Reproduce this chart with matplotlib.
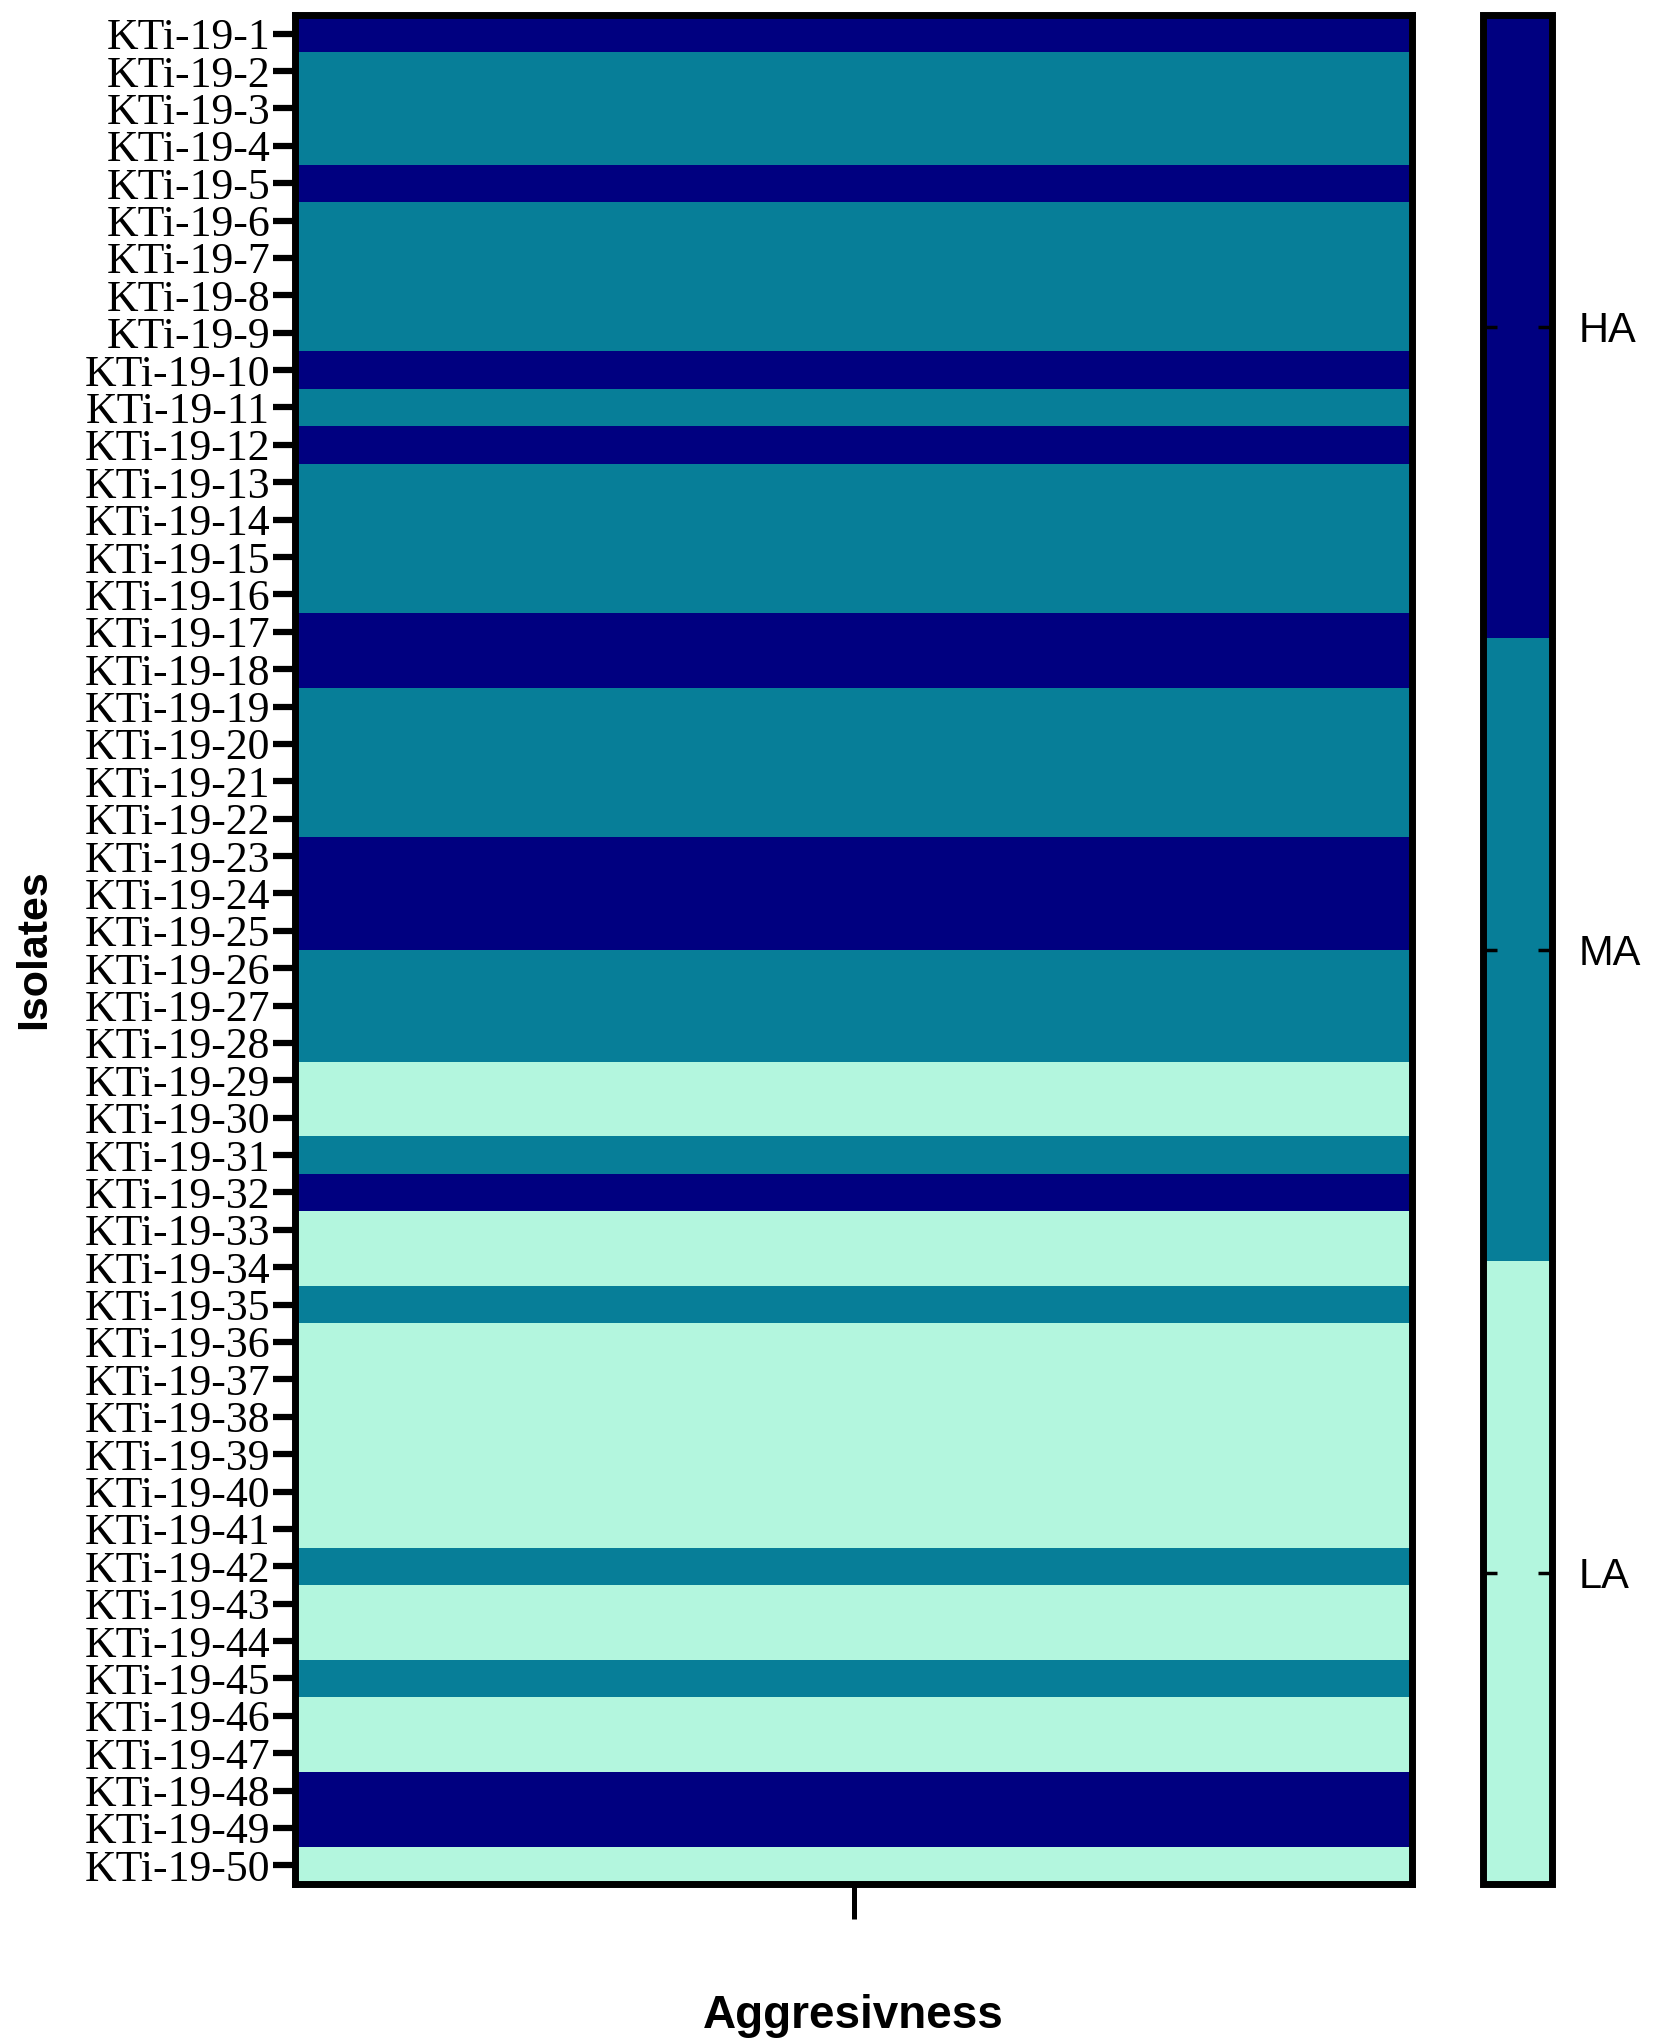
import matplotlib
matplotlib.use("Agg")
import matplotlib.pyplot as plt
from matplotlib.colors import ListedColormap, BoundaryNorm
import numpy as np

isolates = [f"KTi-19-{i}" for i in range(1, 51)]
aggressiveness = [
    "HA", "MA", "MA", "MA", "HA", "MA", "MA", "MA", "MA", "HA",
    "MA", "HA", "MA", "MA", "MA", "MA", "HA", "HA", "MA", "MA",
    "MA", "MA", "HA", "HA", "HA", "MA", "MA", "MA", "LA", "LA",
    "MA", "HA", "LA", "LA", "MA", "LA", "LA", "LA", "LA", "LA",
    "LA", "MA", "LA", "LA", "MA", "LA", "LA", "HA", "HA", "LA",
]
levels = ["LA", "MA", "HA"]
level_colors = ["#b3f6de", "#077e98", "#000080"]

codes = np.array([levels.index(a) for a in aggressiveness]).reshape(-1, 1)

W, H = 1654, 2041
fig = plt.figure(figsize=(W / 100, H / 100), dpi=100)
top, bottom = 15, 1884
ax = fig.add_axes([295 / W, 1 - bottom / H, (1412 - 295) / W, (bottom - top) / H])
cax = fig.add_axes([1483 / W, 1 - bottom / H, (1552 - 1483) / W, (bottom - top) / H])

cmap = ListedColormap(level_colors)
norm = BoundaryNorm([-0.5, 0.5, 1.5, 2.5], cmap.N)
mesh = ax.pcolormesh(np.arange(2), np.arange(len(isolates) + 1), codes, cmap=cmap, norm=norm)
ax.set_xlim(0, 1)
ax.set_ylim(len(isolates), 0)
ax.set_yticks(np.arange(len(isolates)) + 0.5)
ax.set_yticklabels(isolates, fontfamily="Liberation Serif", fontsize=31.5)
ax.set_xticks([0.5])
ax.set_xticklabels([""])
ax.tick_params(axis="y", length=16, width=4.5, pad=2)
ax.tick_params(axis="x", length=25, width=3.6)
for s in ax.spines.values():
    s.set_linewidth(5)
ax.set_ylabel("Isolates", fontfamily="Liberation Sans", fontweight="bold", fontsize=31, labelpad=22)
ax.set_xlabel("Aggresivness", fontfamily="Liberation Sans", fontweight="bold", fontsize=33, labelpad=51)

cb = fig.colorbar(mesh, cax=cax, ticks=[0, 1, 2])
cb.set_ticklabels(levels)
cb.outline.set_linewidth(5)
cax.tick_params(direction="in", left=True, right=True, length=10, width=2.5, pad=19)
for t in cax.get_yticklabels():
    t.set_fontfamily("Liberation Sans")
    t.set_fontsize(30)

fig.savefig("out.png", dpi=100, facecolor="white")
